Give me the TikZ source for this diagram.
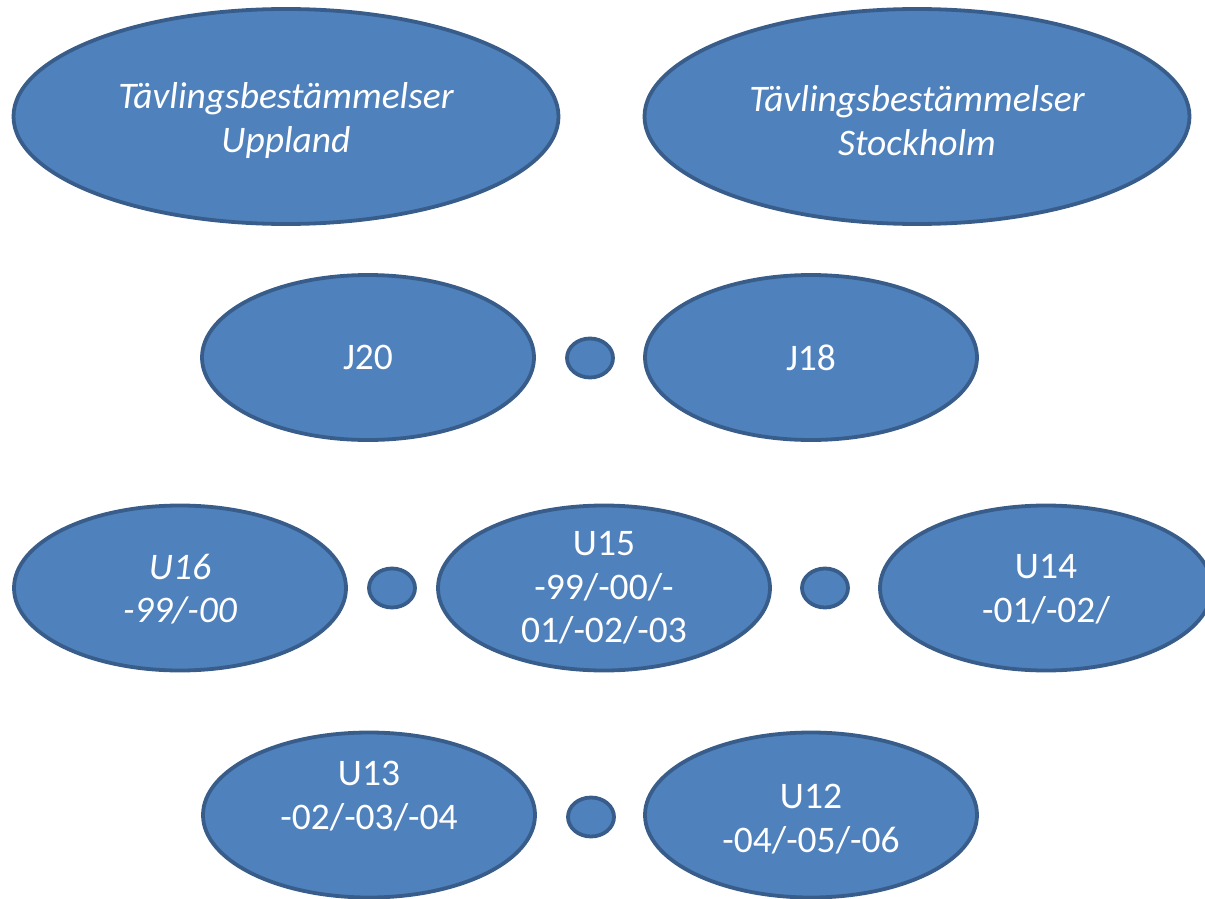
\documentclass[tikz,border=0pt]{standalone}
\usepackage{fontspec}
\setmainfont{Carlito}
\usetikzlibrary{shapes.geometric}
\definecolor{ofill}{HTML}{4F81BD}
\definecolor{oline}{HTML}{385D8A}
\tikzset{
  oval/.style={ellipse, draw=oline, fill=ofill, line width=3.8pt, inner sep=0pt},
  big/.style={oval, minimum width=545pt, minimum height=215pt},
  mid/.style={oval, minimum width=332pt, minimum height=165pt},
  dot/.style={oval, minimum width=46pt, minimum height=39pt},
  lbl/.style={text=white, align=center, font=\fontsize{37.5}{43.5}\selectfont},
  ilbl/.style={lbl, font=\fontsize{37.5}{43.5}\selectfont\itshape}
}
\begin{document}
\begin{tikzpicture}[x=1pt,y=-1pt]
\useasboundingbox (0,0) rectangle (1205,899);
\clip (0,0) rectangle (1205,899);
% row 1
\node[big] (upp) at (286,116.5) {};
\node[big] (sto) at (917,116.5) {};
% row 2
\node[mid] (j20) at (368,357.5) {};
\node[dot] (d1) at (590,358) {};
\node[mid] (j18) at (811,357.5) {};
% row 3
\node[mid] (u16) at (180,588) {};
\node[dot] (d2) at (392,588) {};
\node[mid] (u15) at (604,588) {};
\node[dot] (d3) at (825,588) {};
\node[mid] (u14) at (1046,588) {};
% row 4
\node[mid] (u13) at (369,815) {};
\node[dot] (d4) at (591,817) {};
\node[mid] (u12) at (811,815) {};
% labels
\node[ilbl] (tupp) at ([yshift=-4pt]upp.center) {Tävlingsbestämmelser\\Uppland};
\node[ilbl] (tsto) at ([yshift=-4pt]sto.center) {Tävlingsbestämmelser\\Stockholm};
\node[lbl] (tj20) at (j20.center) {J20};
\node[lbl] (tj18) at (j18.center) {J18};
\node[ilbl] (tu16) at ([yshift=-1pt]u16.center) {U16\\-99/-00};
\node[lbl] (tu15) at (u15.center) {U15\\-99/-00/-\\01/-02/-03};
\node[lbl] (tu14) at ([yshift=-1pt]u14.center) {U14\\-01/-02/};
\node[lbl] (tu13) at ([yshift=19pt]u13.center) {U13\\-02/-03/-04};
\node[lbl] (tu12) at ([yshift=-4pt]u12.center) {U12\\-04/-05/-06};
\end{tikzpicture}
\end{document}
